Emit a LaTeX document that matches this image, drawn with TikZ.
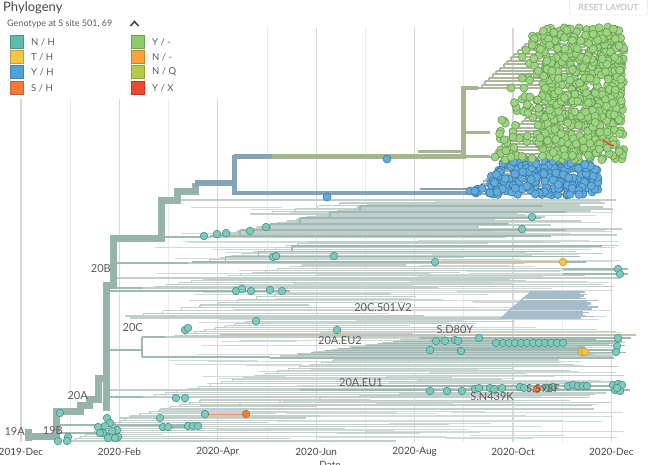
\documentclass[tikz,border=0pt]{standalone}
\usepackage{fontspec}
\setmainfont{Lato}
\definecolor{cNH}{RGB}{94,190,172}
\definecolor{cTH}{RGB}{245,196,66}
\definecolor{cYH}{RGB}{80,163,218}
\definecolor{cSH}{RGB}{248,122,56}
\definecolor{cYm}{RGB}{140,204,108}
\definecolor{cNm}{RGB}{248,163,60}
\definecolor{cNQ}{RGB}{180,204,72}
\definecolor{cYX}{RGB}{238,72,48}
\definecolor{trunkc}{RGB}{150,180,172}
\definecolor{lightbr}{RGB}{192,207,203}
\definecolor{hazebr}{RGB}{208,219,216}
\definecolor{midbr}{RGB}{158,184,178}
\definecolor{bluebr}{RGB}{132,163,184}
\definecolor{olivebr}{RGB}{166,182,140}
\definecolor{greenbr}{RGB}{172,184,158}
\definecolor{bluesub}{RGB}{165,178,192}
\definecolor{v2br}{RGB}{165,188,202}
\definecolor{tanbr}{RGB}{208,192,160}
\definecolor{textc}{RGB}{90,90,90}
\definecolor{axisc}{RGB}{70,70,70}
\definecolor{gridmaj}{RGB}{216,216,216}
\definecolor{gridmin}{RGB}{234,234,234}
\tikzset{
  gmaj/.style={gridmaj, line width=1.2pt},
  gmin/.style={gridmin, line width=1pt},
  trunk/.style={trunkc, line width=7pt},
  lb/.style={lightbr, line width=1.1pt},
  hb/.style={hazebr, line width=0.9pt},
  mb/.style={midbr, line width=1.3pt},
  gbr/.style={greenbr, line width=2pt},
  bbr/.style={bluesub, line width=1.8pt},
  v2/.style={v2br, line width=1.3pt},
  tdot/.style={fill=cNH!80!white, draw=cNH!75!black, line width=0.6pt},
  gdot/.style={fill=cYm!85!white, draw=cYm!75!black, line width=0.6pt},
  bdot/.style={fill=cYH!90!white, draw=cYH!75!black, line width=0.6pt},
  ydot/.style={fill=cTH, draw=cTH!80!black, line width=0.6pt},
  odot/.style={fill=cSH, draw=cSH!80!black, line width=0.6pt},
  axl/.style={text=axisc, font=\fontsize{10}{12}\selectfont, inner sep=0pt},
  trl/.style={text=textc, font=\fontsize{11}{13}\selectfont, inner sep=0pt},
  sw/.style={minimum size=12.5pt, inner sep=0pt, line width=0.5pt},
  legl/.style={text=textc, font=\fontsize{9.5}{11}\selectfont, anchor=west, inner sep=0pt},
}
\newcommand{\ladder}[8]{%
  \pgfmathtruncatemacro{\Lk}{#4-1}%
  \foreach \k in {0,...,\Lk}{%
    \pgfmathsetmacro{\Ly}{#3-(#3-#2)*\k/\Lk}%
    \pgfmathsetmacro{\Lyp}{#3-(#3-#2)*max(\k-1,0)/\Lk}%
    \pgfmathsetmacro{\Lx}{#1+(#5)*\k/\Lk}%
    \pgfmathsetmacro{\Lxe}{#6+rnd*(#7-#6)}%
    \draw[#8] (\Lx,\Ly) -- (\Lxe,\Ly);
    \draw[#8] (\Lx,\Ly) -- (\Lx,\Lyp);
  }}
\begin{document}
\begin{tikzpicture}[x=1pt,y=-1pt]
\useasboundingbox (0,0) rectangle (650,465);
\fill[white] (0,0) rectangle (650,465);
\pgfmathsetseed{12}
% grid
\foreach \m in {0,...,12}{
  \pgfmathsetmacro{\gx}{21+49.2*\m}
  \ifodd\m\relax \draw[gmin] (\gx,28) -- (\gx,442);
  \else \draw[gmaj] (\gx,28) -- (\gx,442); \fi
}
\fill[white] (0,14) rectangle (228,99);
% axis labels
\node[axl] (d19) at (21,452) {2019-Dec};
\node[axl] (dfeb) at (119.4,452) {2020-Feb};
\node[axl] (dapr) at (217.8,452) {2020-Apr};
\node[axl] (djun) at (316.2,452) {2020-Jun};
\node[axl] (daug) at (414.6,452) {2020-Aug};
\node[axl] (doct) at (513,452) {2020-Oct};
\node[axl] (ddec) at (611.4,452) {2020-Dec};
\node[axl, anchor=north] (dtitle) at (330,461) {Date};
% header
\node[anchor=west, text=axisc, font=\fontsize{13}{15}\selectfont, inner sep=0pt] (title) at (3,8) {Phylogeny};
\node[anchor=west, text=textc, font=\fontsize{9}{11}\selectfont, inner sep=0pt] (gtitle) at (7,24) {Genotype at S site 501, 69};
\draw[axisc, line width=1.6pt] (130.5,26) -- (134.5,21.5) -- (138.5,26);
\node[draw=gray!35, rounded corners=1.5pt, text=gray!60, font=\fontsize{8.5}{10}\selectfont, minimum width=78pt, minimum height=16pt, inner sep=0pt] (reset) at (608.5,7) {RESET LAYOUT};
% legend
\node[sw, fill=cNH, draw=cNH!80!black] (s1) at (16.5,42) {};
\node[sw, fill=cTH, draw=cTH!80!black] (s2) at (16.5,57) {};
\node[sw, fill=cYH, draw=cYH!80!black] (s3) at (16.5,72) {};
\node[sw, fill=cSH, draw=cSH!80!black] (s4) at (16.5,88) {};
\node[sw, fill=cYm, draw=cYm!80!black] (s5) at (137.5,42) {};
\node[sw, fill=cNm, draw=cNm!80!black] (s6) at (137.5,57) {};
\node[sw, fill=cNQ, draw=cNQ!80!black] (s7) at (137.5,72) {};
\node[sw, fill=cYX, draw=cYX!80!black] (s8) at (137.5,88) {};
\node[legl] (l1) at (31,42) {N / H};
\node[legl] (l2) at (31,57) {T / H};
\node[legl] (l3) at (31,72) {Y / H};
\node[legl] (l4) at (31,88) {S / H};
\node[legl] (l5) at (152,42) {Y / -};
\node[legl] (l6) at (152,57) {N / -};
\node[legl] (l7) at (152,72) {N / Q};
\node[legl] (l8) at (152,88) {Y / X};
% ---------------- tree: haze of many thin branches
\foreach \i in {1,...,170}{
  \pgfmathsetmacro{\hy}{198+242*rnd}
  \pgfmathsetmacro{\hx}{150+330*rnd}
  \pgfmathsetmacro{\he}{\hx+60+(625-\hx-60)*rnd}
  \draw[hb] (\hx,\hy) -- (\he,\hy);
}
% ---------------- tree: light forest
\draw[lb] (161,200) -- (616,200);
\ladder{250}{203}{214}{5}{90}{500}{612}{lb}
\draw[mb] (161,237) -- (207,237);
\ladder{207}{203}{237}{18}{170}{470}{622}{lb}
\ladder{210}{206}{236}{6}{150}{500}{615}{mb}
\draw[mb] (113,263) -- (188,263);
\ladder{188}{242}{263}{12}{120}{430}{620}{lb}
\ladder{192}{246}{262}{4}{100}{520}{615}{mb}
\draw[lb] (113,278) -- (620,278);
\draw[mb] (113,288) -- (142,288);
\ladder{142}{265}{288}{14}{160}{400}{625}{lb}
\draw[tanbr, line width=1.3pt] (435,262) -- (563,262);
\draw[mb] (563,269) -- (628,269);
\draw[mb] (563,274) -- (628,274);
\draw[mb, line width=1.6pt] (106,291) -- (290,291);
\ladder{125}{294}{316}{9}{150}{300}{480}{lb}
\draw[lb] (130,318) -- (500,318);
\ladder{500}{292}{318}{20}{30}{578}{602}{v2}
\draw[mb] (106,350) -- (142,350);
\draw[mb] (142,337) -- (142,357);
\draw[mb] (142,337) -- (165,337);
\ladder{165}{318}{337}{11}{100}{400}{630}{lb}
\draw[tanbr, line width=1.5pt] (220,335) -- (636,335);
\draw[mb] (142,357) -- (270,357);
\ladder{270}{338}{358}{12}{150}{560}{632}{mb}
\ladder{280}{340}{356}{8}{120}{500}{630}{lb}
\draw[mb, line width=1.5pt] (430,341) -- (622,341);
\draw[mb, line width=1.5pt] (430,350) -- (620,350);
\draw[mb] (106,397) -- (143,397);
\ladder{143}{360}{397}{18}{190}{450}{625}{lb}
\draw[lb] (106,390) -- (300,390);
\draw[mb, line width=2pt] (300,390) -- (630,390);
\draw[mb, line width=1.5pt] (350,386) -- (625,386);
\ladder{200}{393}{405}{6}{200}{560}{615}{lb}
\ladder{120}{400}{418}{9}{80}{250}{620}{lb}
\ladder{70}{416}{441}{13}{60}{150}{500}{lb}
\draw[mb] (56,425) -- (200,425);
\draw[mb] (160,427) -- (200,427);
\draw[mb] (56,433) -- (120,433);
\draw[cSH!75!white, line width=1pt] (205,414) -- (246,414);
% ---------------- trunk
\draw[trunk] (28,429) -- (28,441);
\draw[trunk] (28,436) -- (56,436) -- (56,411) -- (80,411) -- (80,405) -- (89,405) -- (89,399) -- (98,399) -- (98,378) -- (106,378) -- (106,285) -- (113,285) -- (113,238) -- (161,238) -- (161,200) -- (177,200) -- (177,192) -- (195,192) -- (195,183);
\draw[trunk] (106,378) -- (106,411);
\draw[bluebr, line width=6pt] (195,183) -- (234,183);
\draw[bluebr, line width=5pt] (234,155) -- (234,195);
\draw[bluebr, line width=5pt] (234,157) -- (272,157);
\draw[olivebr, line width=5pt] (272,157) -- (463,157);
\draw[olivebr, line width=3pt] (418,152) -- (463,152);
\draw[olivebr, line width=5pt] (463,86) -- (463,159);
\draw[olivebr, line width=4pt] (463,88) -- (478,88);
\draw[olivebr, line width=3pt] (463,133) -- (490,133);
\draw[olivebr, line width=3pt] (463,157) -- (490,157);
\draw[bluebr, line width=4pt] (234,193) -- (470,193);
\draw[bluebr, line width=2pt] (420,189) -- (475,189);
% green and blue subtrees
\ladder{478}{30}{88}{18}{62}{570}{618}{gbr}
\ladder{490}{95}{157}{20}{55}{570}{620}{gbr}
\ladder{470}{161}{194}{14}{35}{560}{600}{bbr}
\foreach \i in {1,...,240}{
  \pgfmathsetmacro{\by}{160+35*rnd}
  \pgfmathsetmacro{\bxmin}{505-(\by-160)*1.0}
  \pgfmathsetmacro{\bx}{\bxmin+(598-\bxmin)*rnd}
  \filldraw[bdot] (\bx,\by) circle (4pt);
}
\foreach \px/\py in {470/191,475/191,490/193,497/192}{\filldraw[bdot] (\px,\py) circle (4pt);}
\foreach \i in {1,...,560}{
  \pgfmathsetmacro{\gy}{27+133*rnd}
  \pgfmathsetmacro{\gx}{542+82*rnd}
  \filldraw[gdot] (\gx,\gy) circle (4pt);
}
\foreach \i in {1,...,50}{
  \pgfmathsetmacro{\gy}{95+65*rnd}
  \pgfmathsetmacro{\gx}{498+45*rnd}
  \filldraw[gdot] (\gx,\gy) circle (4pt);
}
\foreach \i in {1,...,18}{
  \pgfmathsetmacro{\gy}{35+50*rnd}
  \pgfmathsetmacro{\gx}{520+22*rnd}
  \filldraw[gdot] (\gx,\gy) circle (4pt);
}
\foreach \px/\py in {511/88,524/88,513/137,495/157,511/157}{\filldraw[gdot] (\px,\py) circle (4pt);}
\draw[cYX, line width=1.5pt] (603,140) -- (609,144) -- (614,146);
% single blue dots
\filldraw[bdot] (387,159) circle (4pt);
\filldraw[bdot] (327,197) circle (4pt);
% teal dots
\foreach \px/\py in {204/236,217/234,226/233,250/231,266/227,532/217,522/229,
  273/257,276/256,334/256,435/262,618/269,620/274,
  236/291,242/289,251/291,270/290,282/291,
  185/330,188/328,256/321,337/330,
  436/341,445/341,455/340,458/341,479/338,496/343,503/343,509/343,515/343,521/343,527/343,533/343,539/343,545/343,551/343,557/343,563/343,618/338,
  430/350,461/351,617/346,616/352,
  176/398,185/398,
  430/391,447/391,462/391,475/389,479/388,490/388,494/389,502/388,520/387,524/388,547/388,553/387,568/386,573/385,578/386,583/386,587/386,613/385,618/384,622/385,615/390,620/391,617/388,
  60/413,58/441,68/437,67/441,98/427,107/418,103/433,110/423,117/430,118/437,115/438,100/433,105/426,112/431,108/438,160/418,163/427,168/427,188/426,193/426,198/426,205/414}
  {\filldraw[tdot] (\px,\py) circle (3.8pt);}
\foreach \px/\py in {563/262,582/352,585/352}{\filldraw[ydot] (\px,\py) circle (3.8pt);}
\foreach \px/\py in {246/414,537/389}{\filldraw[odot] (\px,\py) circle (3.8pt);}
% clade labels
\node[trl, anchor=east] (l20B) at (111,269) {20B};
\node[trl, anchor=east] (l20C) at (143,328) {20C};
\node[trl] (lv2) at (383,308) {20C.501.V2};
\node[trl] (ld80) at (455,330) {S.D80Y};
\node[trl] (leu2) at (340,341) {20A.EU2};
\node[trl] (leu1) at (361,383) {20A.EU1};
\node[trl] (ln439) at (492,397) {S.N439K};
\node[trl] (ls98) at (543,389) {S.S98F};
\node[trl, anchor=east] (l20A) at (88,396) {20A};
\node[trl, anchor=east] (l19B) at (63,431) {19B};
\node[trl, anchor=east] (l19A) at (25,432) {19A};
\end{tikzpicture}
\end{document}
